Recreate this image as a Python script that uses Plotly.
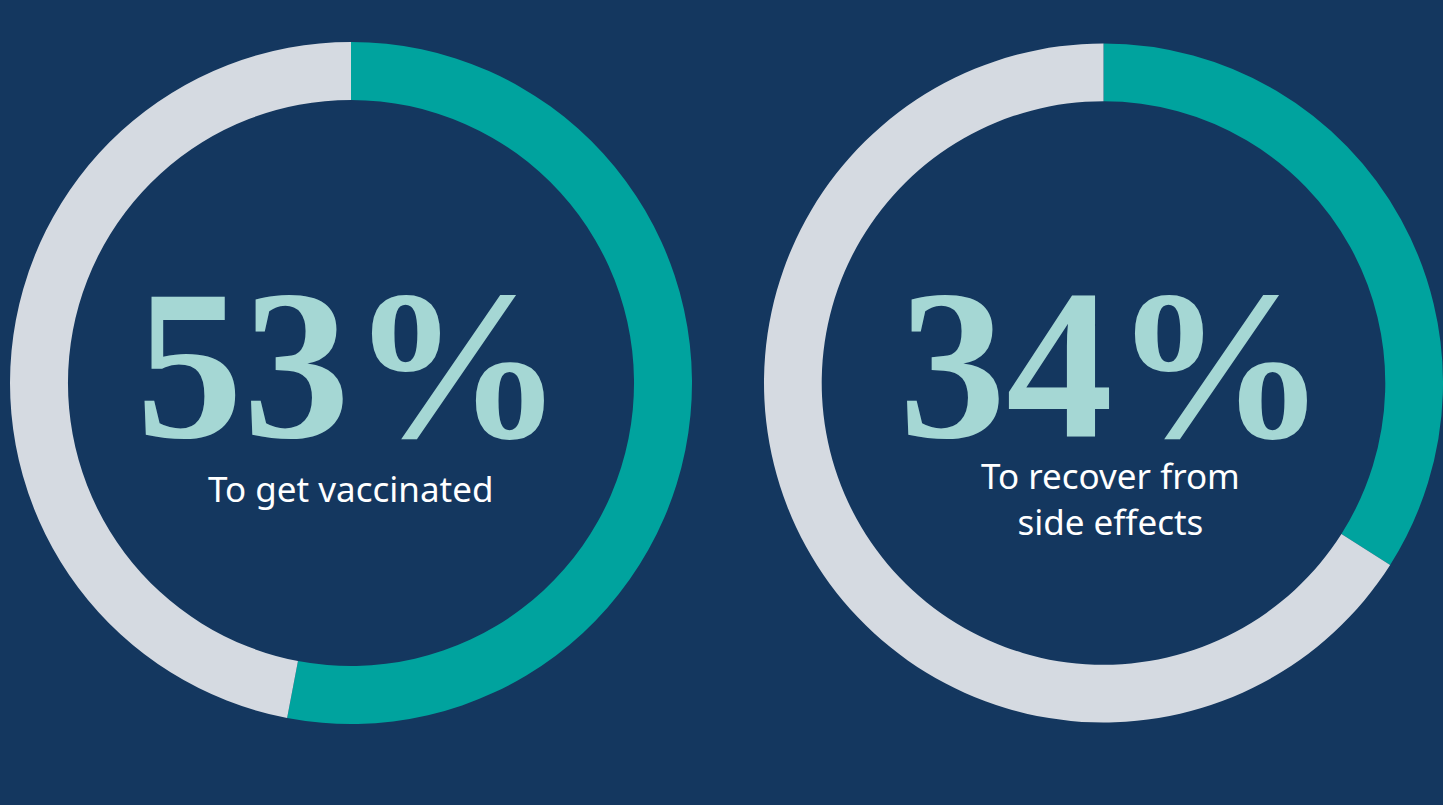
import plotly.graph_objects as go

W, H = 1443, 805

# Data
labels = ["Yes", "Rest"]
left_values = [53, 47]
right_values = [34, 66]
big_labels = ["53%", "34%"]
sub_labels = ["To get vaccinated", "To recover from<br>side effects"]

BG = "#14375F"
TEAL = "#00A39E"
GRAY = "#D5DAE1"
TXT = "#A5D7D4"

fig = go.Figure()

# left donut: center (351, 383), r 341
lx0, lx1 = (351 - 341) / W, (351 + 341) / W
ly0, ly1 = (H - 383 - 341) / H, (H - 383 + 341) / H
# right donut: center (~1105, 383), clipped by right edge
rx0, rx1 = (1446 - 684 + 2) / W, 1.0

for vals, dx in [(left_values, [lx0, lx1]), (right_values, [rx0, rx1])]:
    fig.add_trace(go.Pie(
        labels=labels, values=vals, hole=0.83, sort=False,
        direction="clockwise", rotation=0,
        marker=dict(colors=[TEAL, GRAY], line=dict(width=0)),
        textinfo="none", hoverinfo="none", showlegend=False,
        domain=dict(x=dx, y=[ly0, ly1]),
    ))

big_x = [350, 1113]
for i, t in enumerate(big_labels):
    fig.add_annotation(
        x=big_x[i] / W, y=(H - 364) / H, xref="paper", yref="paper",
        text=f"<b>{t}</b>", showarrow=False, xanchor="center", yanchor="middle",
        font=dict(family="Liberation Serif", size=214, color=TXT),
    )

fig.add_annotation(
    x=351 / W, y=(H - 488) / H, xref="paper", yref="paper",
    text=sub_labels[0], showarrow=False, xanchor="center", yanchor="middle",
    font=dict(family="Noto Sans", size=35, color="white"),
)
fig.add_annotation(
    x=1110 / W, y=(H - 498) / H, xref="paper", yref="paper",
    text=sub_labels[1], showarrow=False, xanchor="center", yanchor="middle",
    font=dict(family="Noto Sans", size=35, color="white"),
)

fig.update_layout(
    width=W, height=H, margin=dict(l=0, r=0, t=0, b=0),
    paper_bgcolor=BG, plot_bgcolor=BG,
)

fig.write_html(
    "out.html",
    config={"displayModeBar": False},
    post_script="document.body.style.margin='0';document.body.style.background='%s';" % BG,
)
